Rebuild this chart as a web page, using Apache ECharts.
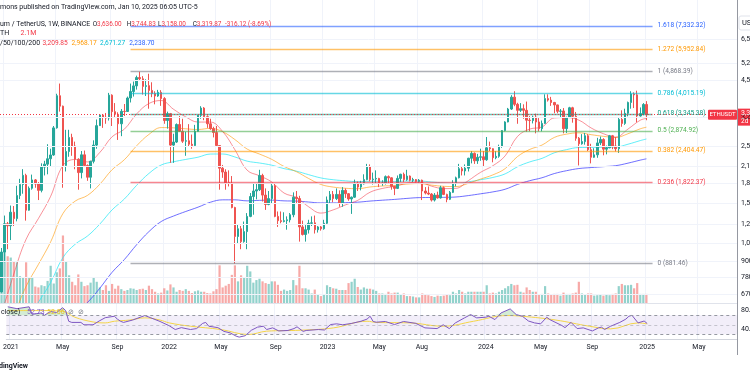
<!DOCTYPE html>
<html>
<head>
<meta charset="utf-8">
<script src="https://cdn.jsdelivr.net/npm/echarts@6/dist/echarts.min.js"></script>
<style>
  html, body { margin: 0; padding: 0; background: #fff; }
  #chart { width: 750px; height: 375px; }
</style>
</head>
<body>
<div id="chart"></div>
<script>
// weekly ETHUSDT candles, first bar 2020-12-28
const firstWeek = '2020-12-28';
const weekCount = 240;

const opens = [683,975,1255,1232,1391,1314,1614,1781,1932,1416,
  1722,1855,1788,1690,2080,2135,2240,2317,2950,3930,
  3580,2110,2390,2710,2510,2230,1980,2320,2110,1900,
  2190,2530,3010,3310,3240,3220,3950,3410,3330,3060,
  3420,3415,3850,4080,4290,4620,4570,4270,4300,4120,
  4010,3920,4050,3830,3150,3350,2530,2600,3040,2860,
  2620,2630,2550,2520,2860,3300,3520,3260,3060,2930,
  2830,2520,2060,1990,1810,1800,1450,1120,1200,1070,
  1170,1340,1600,1680,1700,1930,1620,1490,1570,1760,
  1340,1290,1280,1290,1300,1360,1590,1570,1220,1140,
  1190,1260,1265,1190,1220,1200,1260,1550,1630,1570,
  1630,1510,1690,1640,1565,1590,1790,1740,1790,1860,
  2090,1860,1870,1880,1800,1805,1910,1890,1750,1720,
  1880,1950,1860,1920,1850,1860,1830,1850,1680,1650,
  1635,1550,1620,1580,1730,1630,1560,1660,1800,1890,
  2050,2010,2060,2250,2350,2200,2270,2280,2220,2470,
  2450,2260,2290,2500,2880,3110,3490,3880,3640,3450,
  3500,3450,3160,3150,3250,3110,2930,3070,3830,3780,
  3700,3620,3420,3430,2930,3240,3530,3270,2690,2560,
  2610,2750,2430,2270,2320,2580,2660,2440,2470,2750,
  2510,2450,3180,3070,3360,3700,3990,3960,3280,3350,
  3636];
const highs = [1011,1350,1275,1476,1470,1760,1873,2042,1960,1750,
  1945,1870,1820,2150,2200,2550,2450,3000,4000,4380,
  3600,2900,2900,2800,2610,2250,2400,2410,2130,2200,
  2640,3180,3335,3340,3370,4030,3980,3680,3390,3490,
  3650,3900,4380,4460,4700,4868,4680,4550,4780,4430,
  4090,4140,4130,3880,3410,3370,2800,3070,3280,3200,
  2850,3050,2780,3030,3310,3580,3550,3300,3200,2980,
  3000,2530,2120,2040,2020,1920,1460,1250,1230,1280,
  1380,1650,1790,1800,2030,1960,1720,1680,1790,1790,
  1400,1400,1390,1340,1380,1660,1680,1610,1290,1240,
  1300,1340,1350,1230,1230,1300,1600,1680,1680,1720,
  1690,1740,1720,1650,1600,1860,1830,1840,1950,2140,
  2130,1980,2020,1890,1850,1930,1930,1900,1760,1930,
  1960,1980,2030,1930,1890,1870,1870,1860,1740,1750,
  1650,1650,1670,1760,1750,1640,1680,1850,1910,2140,
  2100,2130,2260,2400,2370,2340,2450,2400,2720,2610,
  2460,2400,2540,2890,3130,3525,3950,4090,3690,3680,
  3640,3730,3280,3290,3350,3220,3150,3980,3980,3890,
  3720,3630,3490,3520,3260,3560,3560,3400,2720,2790,
  2820,2790,2560,2460,2700,2730,2690,2520,2770,2770,
  2720,3250,3450,3500,3730,4090,4050,4110,3540,3680,
  3744.83];
const lows = [680,890,1000,1085,1230,1282,1563,1640,1290,1410,
  1700,1730,1550,1660,1930,1950,2100,2300,2930,3410,
  1730,2000,2280,2300,2040,1700,1880,2080,1840,1720,
  2150,2450,3000,2950,3060,3150,3000,3240,2650,2740,
  3280,3400,3700,3900,4150,4500,3970,3920,3500,3880,
  3640,3890,3590,3060,2930,2160,2160,2580,2850,2580,
  2300,2500,2450,2500,2850,3200,3160,2950,2900,2710,
  2500,1700,1890,1700,1750,1440,880,1050,1000,1060,
  1000,1330,1360,1560,1680,1530,1420,1480,1500,1330,
  1220,1260,1270,1190,1270,1330,1510,1070,1130,1070,
  1150,1230,1150,1160,1180,1190,1250,1500,1520,1550,
  1460,1460,1580,1540,1370,1580,1680,1690,1780,1850,
  1830,1780,1800,1740,1760,1780,1800,1700,1620,1710,
  1820,1820,1840,1830,1820,1810,1810,1550,1630,1620,
  1530,1530,1570,1570,1620,1520,1550,1650,1750,1880,
  1930,1930,2000,2150,2140,2140,2200,2100,2200,2400,
  2170,2230,2260,2470,2860,3100,3460,3580,3060,3400,
  3200,2850,2860,3070,2810,2860,2860,3060,3730,3590,
  3360,3360,3240,2810,2820,3230,3090,2630,2110,2540,
  2540,2400,2150,2260,2260,2530,2310,2330,2460,2440,
  2390,2360,2980,3030,3270,3500,3520,3100,3260,3300,
  3158];
const closes = [975,1255,1232,1391,1314,1614,1781,1932,1416,1722,
  1855,1788,1690,2080,2135,2240,2317,2950,3930,3580,
  2110,2390,2710,2510,2230,1980,2320,2110,1900,2190,
  2530,3010,3310,3240,3220,3950,3410,3330,3060,3420,
  3415,3850,4080,4290,4620,4570,4270,4300,4120,4010,
  3920,4050,3830,3150,3350,2530,2600,3040,2860,2620,
  2630,2550,2520,2860,3300,3520,3260,3060,2930,2830,
  2520,2060,1990,1810,1800,1450,1120,1200,1070,1170,
  1340,1600,1680,1700,1930,1620,1490,1570,1760,1340,
  1290,1280,1290,1300,1360,1590,1570,1220,1140,1190,
  1260,1265,1190,1220,1200,1260,1550,1630,1570,1630,
  1510,1690,1640,1565,1590,1790,1740,1790,1860,2090,
  1860,1870,1880,1800,1805,1910,1890,1750,1720,1880,
  1950,1860,1920,1850,1860,1830,1850,1680,1650,1635,
  1550,1620,1580,1730,1630,1560,1660,1800,1890,2050,
  2010,2060,2250,2350,2200,2270,2280,2220,2470,2450,
  2260,2290,2500,2880,3110,3490,3880,3640,3450,3500,
  3450,3160,3150,3250,3110,2930,3070,3830,3780,3700,
  3620,3420,3430,2930,3240,3530,3270,2690,2560,2610,
  2750,2430,2270,2320,2580,2660,2440,2470,2750,2510,
  2450,3180,3070,3360,3700,3990,3960,3280,3350,3636,
  3319.87];
// volume, millions of ETH
const volumes = [11.0,12.7,10.8,10.5,9.7,9.4,6.2,6.0,9.4,6.0,
  5.8,3.8,3.6,4.1,3.9,5.1,8.6,4.5,7.1,8.0,
  15.6,9.6,6.4,4.9,4.1,6.6,4.9,3.9,4.1,4.7,
  5.8,4.9,3.6,3.0,4.1,2.8,4.4,3.3,4.0,3.2,
  2.8,3.0,3.4,3.3,3.0,3.2,3.3,3.0,4.0,3.2,
  2.6,2.2,2.4,3.4,2.9,4.3,3.6,2.6,3.0,2.8,
  3.2,2.8,2.3,2.7,2.9,2.6,2.6,2.3,2.2,2.7,
  3.2,8.7,3.6,4.0,4.4,6.5,8.7,5.0,6.4,6.0,
  8.6,7.3,4.7,5.3,5.6,5.0,4.6,4.4,5.0,5.0,
  4.2,2.8,3.1,2.8,3.0,5.3,4.1,8.6,3.4,3.4,
  3.1,2.2,3.1,1.9,1.6,1.9,4.1,3.7,3.4,3.3,
  3.0,3.0,3.0,4.6,4.9,5.6,3.7,3.1,3.6,3.3,
  3.3,3.1,2.8,2.2,2.2,2.1,2.6,2.2,2.4,2.4,
  1.9,2.2,1.6,1.6,1.5,1.3,1.3,2.2,1.9,1.8,
  1.6,1.4,1.7,1.6,1.7,1.9,1.8,2.6,2.2,3.0,
  2.6,2.2,2.6,2.6,2.6,2.6,2.6,2.6,4.1,2.2,
  2.4,2.2,2.6,3.0,3.4,3.9,4.4,4.1,4.2,2.6,
  2.4,3.6,3.0,2.6,2.6,1.9,2.1,3.9,2.2,1.9,
  2.1,2.1,1.7,2.4,2.1,2.1,2.2,2.4,4.9,2.2,
  1.9,2.2,2.2,1.7,1.8,1.9,1.7,1.9,1.8,2.1,
  2.2,3.9,4.4,4.1,4.1,4.2,3.4,4.6,2.1,2.1,
  2.1];

// moving averages: [week index, value]
const ema20 = [[0,560],[4,802],[8,1093],[12,1314],[16,1603],[20,2110],[24,2226],[28,2177],[32,2369],[36,2726],[40,2917],[44,3342],[48,3667],[52,3765],[56,3483],[60,3253],[64,3107],[68,3107],[72,2858],[76,2427],[80,2022],[84,1925],[88,1821],[92,1650],[96,1586],[100,1460],[104,1380],[108,1420],[112,1485],[116,1546],[120,1662],[124,1719],[128,1752],[132,1802],[136,1817],[140,1755],[144,1717],[148,1721],[152,1843],[156,1985],[160,2105],[164,2299],[168,2732],[172,2919],[176,2975],[180,3224],[184,3234],[188,3161],[192,2948],[196,2801],[200,2717],[204,2919],[208,3159],[210,3209.85]];
const ema50 = [[0,420],[4,550],[8,718],[12,873],[16,1068],[20,1375],[24,1536],[28,1616],[32,1785],[36,2032],[40,2221],[44,2515],[48,2783],[52,2958],[56,2951],[60,2926],[64,2908],[68,2938],[72,2851],[76,2658],[80,2442],[84,2336],[88,2228],[92,2091],[96,1997],[100,1879],[104,1781],[108,1740],[112,1722],[116,1715],[120,1742],[124,1757],[128,1766],[132,1787],[136,1796],[140,1771],[144,1752],[148,1748],[152,1799],[156,1869],[160,1940],[164,2052],[168,2283],[172,2434],[176,2531],[180,2709],[184,2790],[188,2823],[192,2777],[196,2736],[200,2708],[204,2800],[208,2926],[210,2968.17]];
const ema100 = [[0,360],[4,432],[8,528],[12,623],[16,744],[20,928],[24,1046],[28,1125],[32,1251],[36,1420],[40,1565],[44,1768],[48,1965],[52,2119],[56,2180],[60,2227],[64,2272],[68,2336],[72,2337],[76,2276],[80,2193],[84,2157],[88,2115],[92,2052],[96,2006],[100,1944],[104,1888],[108,1858],[112,1840],[116,1827],[120,1832],[124,1832],[128,1830],[132,1836],[136,1837],[140,1821],[144,1807],[148,1801],[152,1823],[156,1858],[160,1896],[164,1958],[168,2085],[172,2178],[176,2248],[180,2362],[184,2430],[188,2476],[192,2479],[196,2480],[200,2485],[204,2550],[208,2634],[210,2671.27]];
const ema200 = [[20,485],[24,562],[28,622],[32,706],[36,814],[40,912],[44,1041],[48,1170],[52,1280],[56,1344],[60,1400],[64,1455],[68,1520],[72,1553],[76,1553],[80,1539],[84,1546],[88,1549],[92,1539],[96,1536],[100,1523],[104,1511],[108,1511],[112,1515],[116,1521],[120,1536],[124,1548],[128,1559],[132,1573],[136,1584],[140,1586],[144,1588],[148,1593],[152,1613],[156,1639],[160,1667],[164,1707],[168,1782],[172,1842],[176,1891],[180,1963],[184,2014],[188,2053],[192,2071],[196,2088],[200,2106],[204,2154],[208,2213],[210,2238.70]];

// RSI(14) and its MA, [week index, value]
const rsi = [[0,88],[3,84],[5,86],[7,88],[8,72],[11,75],[12,70],[14,78],[16,76],[18,86],[19,80],[20,57.5],[21,55],[24,55],[25,50],[28,50],[30,58],[32,65],[35,68],[36,62],[37,57.5],[38,55],[41,60],[45,69.5],[47,64.6],[50,57],[53,48],[55,40],[57,44],[60,40],[62,42],[64,53],[65,55],[66,47],[69,44],[71,36],[73,33],[75,26],[76,24],[78,27],[80,38.5],[82,45],[84,47],[85,40],[87,43.5],[89,37],[92,38],[94,42],[95,45.7],[97,36],[98,38],[102,40],[104,39],[106,50.5],[108,52],[110,50],[113,53],[116,57.5],[118,62],[119,68],[120,57],[121,55.4],[124,57],[127,50.5],[130,57],[134,53],[137,43.5],[141,42],[143,50],[145,42],[147,54],[150,64.6],[152,71.5],[154,64.6],[157,66],[158,68],[160,61],[162,75],[165,83.5],[167,71.5],[169,68],[171,58],[173,54],[175,52],[177,66],[178,61],[182,48.4],[183,44],[185,55],[187,42],[189,43.5],[192,37],[194,43.5],[195,45],[196,40],[198,47],[201,55],[203,62],[204,68],[205,70],[207,54],[209,58],[210,52.73]];
const rsiMa = [[0,80],[10,80],[18,78.5],[22,66],[28,56],[32,54],[35,57.5],[40,60],[45,64.6],[50,60],[53,54],[60,47],[70,40],[79,29.5],[85,36.5],[96,38.5],[107,43.5],[118,57.5],[121,55],[132,54],[143,47],[153,57.5],[164,69.5],[169,68],[180,60],[191,47],[198,41.4],[207,54],[210,52]];

// Fibonacci retracement levels
const fibRatios = ['1.618', '1.272', '1', '0.786', '0.618', '0.5', '0.382', '0.236', '0'];
const fibPrices = [7332.32, 5952.84, 4868.39, 4015.19, 3345.38, 2874.92, 2404.47, 1822.37, 881.46];
const fibColors = ['#2962ff', '#ff9800', '#787b86', '#00bcd4', '#089981', '#4caf50', '#ff9800', '#f23645', '#787b86'];
const fibFromWeek = 42;
const fibToWeek = 212;

const lastPrice = 3319.87;
const priceTicks = [6500, 5250, 4500, 3250, 2500, 2100, 1800, 1500, 1250, 1050, 900, 780, 670];
const rsiTicks = [80, 40];
const tickDates = ['2021-01-04','2021-05-03','2021-09-06','2022-01-03','2022-05-02','2022-09-05','2023-01-02','2023-05-01','2023-08-07','2024-01-01','2024-05-06','2024-09-02','2025-01-06','2025-05-05'];
const tickLabels = ['2021','May','Sep','2022','May','Sep','2023','May','Aug','2024','May','Sep','2025','May'];

const UP = '#26a69a', DOWN = '#ef5350';
const FONT = 'Roboto, sans-serif';

const cats = [];
const t0 = new Date(firstWeek + 'T00:00:00Z').getTime();
for (let i = 0; i < weekCount; i++) {
  cats.push(new Date(t0 + i * 7 * 86400000).toISOString().slice(0, 10));
}
const onWeeks = arr => arr.map(p => [cats[p[0]], p[1]]);
const isTick = (idx, val) => tickDates.indexOf(val) >= 0;
const money = v => v.toLocaleString('en-US', { minimumFractionDigits: 2, maximumFractionDigits: 2 });
const fade = (hex, a) => {
  const n = parseInt(hex.slice(1), 16);
  return 'rgba(' + (n >> 16) + ',' + ((n >> 8) & 255) + ',' + (n & 255) + ',' + a + ')';
};

const candles = opens.map((o, i) => [o, closes[i], lows[i], highs[i]]);
const volBars = volumes.map((v, i) => ({
  value: v,
  itemStyle: { color: closes[i] >= opens[i] ? 'rgba(38,166,154,0.5)' : 'rgba(239,83,80,0.5)' }
}));

const fibLines = fibPrices.map((p, i) => [
  { coord: [cats[fibFromWeek], p], lineStyle: { color: fade(fibColors[i], 0.6) },
    label: { color: fibColors[i], formatter: fibRatios[i] + ' (' + money(p) + ')' } },
  { coord: [cats[fibToWeek], p] }
]);

const chart = echarts.init(document.getElementById('chart'));

const xBase = {
  type: 'category', data: cats, boundaryGap: true,
  axisLine: { show: false }, axisTick: { show: false }, axisLabel: { show: false },
  splitLine: { show: true, interval: isTick, lineStyle: { color: '#f0f3fa', width: 1 } }
};

const option = {
  animation: false,
  backgroundColor: '#ffffff',
  grid: [
    { left: 0, top: 0, width: 737, height: 303 },
    { left: 0, top: 0, width: 737, height: 303 },
    { left: 0, top: 303, width: 737, height: 36 }
  ],
  xAxis: [
    Object.assign({}, xBase, { gridIndex: 0 }),
    Object.assign({}, xBase, { gridIndex: 1, splitLine: { show: false } }),
    Object.assign({}, xBase, {
      gridIndex: 2,
      axisLine: { show: true, lineStyle: { color: '#d1d4dc' } },
      axisLabel: {
        show: true, interval: isTick, margin: 5, fontSize: 7, color: '#131722', fontFamily: FONT,
        formatter: v => tickLabels[tickDates.indexOf(v)]
      }
    })
  ],
  yAxis: [
    { type: 'log', gridIndex: 0, min: 619, max: 9227, show: false },
    { type: 'value', gridIndex: 1, min: 0, max: 70, show: false },
    { type: 'value', gridIndex: 2, min: 20, max: 96, show: false }
  ],
  series: [
    {
      // horizontal price grid
      type: 'line', xAxisIndex: 0, yAxisIndex: 0, z: 0, silent: true,
      data: [[cats[0], fibPrices[8]]], showSymbol: false, lineStyle: { opacity: 0 },
      markLine: {
        silent: true, symbol: ['none', 'none'], label: { show: false },
        lineStyle: { color: '#f0f3fa', width: 1, type: 'solid' },
        data: priceTicks.map(v => ({ yAxis: v }))
      }
    },
    {
      name: 'Vol', type: 'bar', xAxisIndex: 1, yAxisIndex: 1, z: 1,
      barWidth: 2.2, data: volBars
    },
    {
      // Fibonacci levels
      type: 'line', xAxisIndex: 0, yAxisIndex: 0, z: 2, silent: true,
      data: [[cats[0], fibPrices[8]]], showSymbol: false, lineStyle: { opacity: 0 },
      markLine: {
        silent: true, symbol: ['none', 'none'],
        lineStyle: { width: 1.3, type: 'solid' },
        label: { show: true, position: 'end', distance: 5, fontSize: 6.6, fontFamily: FONT },
        data: fibLines
      }
    },
    { name: 'EMA200', type: 'line', xAxisIndex: 0, yAxisIndex: 0, z: 3, smooth: 0.4, showSymbol: false,
      data: onWeeks(ema200), lineStyle: { color: '#3f3fff', width: 1, opacity: 0.75 } },
    { name: 'EMA100', type: 'line', xAxisIndex: 0, yAxisIndex: 0, z: 3, smooth: 0.4, showSymbol: false,
      data: onWeeks(ema100), lineStyle: { color: '#2ee8f5', width: 1, opacity: 0.75 } },
    { name: 'EMA50', type: 'line', xAxisIndex: 0, yAxisIndex: 0, z: 3, smooth: 0.4, showSymbol: false,
      data: onWeeks(ema50), lineStyle: { color: '#ff9800', width: 1, opacity: 0.6 } },
    { name: 'EMA20', type: 'line', xAxisIndex: 0, yAxisIndex: 0, z: 3, smooth: 0.4, showSymbol: false,
      data: onWeeks(ema20), lineStyle: { color: '#f23645', width: 1, opacity: 0.55 } },
    {
      name: 'ETHUSDT', type: 'candlestick', xAxisIndex: 0, yAxisIndex: 0, z: 4,
      barWidth: 2, data: candles,
      itemStyle: { color: UP, color0: DOWN, borderColor: UP, borderColor0: DOWN, borderWidth: 1 },
      markLine: {
        silent: true, symbol: ['none', 'none'], label: { show: false },
        lineStyle: { color: '#f23645', width: 1, type: [1, 2] },
        data: [{ yAxis: lastPrice }]
      }
    },
    {
      // RSI band and levels
      type: 'line', xAxisIndex: 2, yAxisIndex: 2, z: 1, silent: true,
      data: [[cats[0], 50]], showSymbol: false, lineStyle: { opacity: 0 },
      markArea: { silent: true, itemStyle: { color: 'rgba(126,87,194,0.1)' }, data: [[{ yAxis: 30 }, { yAxis: 70 }]] },
      markLine: {
        silent: true, symbol: ['none', 'none'], label: { show: false },
        lineStyle: { color: '#9598a1', width: 1, type: [3, 3] },
        data: [{ yAxis: 70 }, { yAxis: 50, lineStyle: { opacity: 0.5 } }, { yAxis: 30 }]
      }
    },
    {
      // overbought fill
      type: 'line', xAxisIndex: 2, yAxisIndex: 2, z: 2, silent: true, showSymbol: false,
      data: rsi.map(p => [cats[p[0]], Math.max(p[1], 70)]),
      lineStyle: { width: 0 }, areaStyle: { origin: 70, color: 'rgba(76,175,80,0.35)' }
    },
    { name: 'RSI MA', type: 'line', xAxisIndex: 2, yAxisIndex: 2, z: 3, showSymbol: false, smooth: 0.4,
      data: onWeeks(rsiMa), lineStyle: { color: '#f5d547', width: 1 } },
    { name: 'RSI', type: 'line', xAxisIndex: 2, yAxisIndex: 2, z: 4, showSymbol: false,
      data: onWeeks(rsi), lineStyle: { color: '#7e57c2', width: 1 } }
  ]
};
chart.setOption(option);

// text overlays, placed with the chart's own scales
const txt = (x, y, text, fill, size, align, weight) => ({
  type: 'text', x: x, y: y, silent: true, z: 100,
  style: { text: text, fill: fill, font: (weight || 'normal') + ' ' + (size || 7) + 'px ' + FONT,
    align: align || 'left', verticalAlign: 'middle' }
});
const g = [];
// legend rows
g.push(txt(0, 7, 'mons published on TradingView.com, Jan 10, 2025 06:05 UTC-5', '#131722'));
g.push(txt(0, 24, 'um / TetherUS, 1W, BINANCE', '#131722'));
[['O', '3,636.00', 92.7], ['H', '3,744.83', 126.7], ['L', '3,158.00', 158], ['C', '3,319.87', 192.7]].forEach(r => {
  g.push({ type: 'text', x: r[2], y: 24, silent: true, z: 100,
    style: { text: '{k|' + r[0] + '}{v|' + r[1] + '}', verticalAlign: 'middle', font: '6.4px ' + FONT,
      rich: { k: { fill: '#131722', font: '6.4px ' + FONT }, v: { fill: '#f23645', font: '6.4px ' + FONT } } } });
});
g.push(txt(225, 24, '-316.12 (-8.69%)', '#f23645', 6.4));
g.push(txt(0, 33, 'TH', '#131722'));
g.push(txt(20.5, 33, '2.1M', '#f23645'));
g.push(txt(0, 43, '/50/100/200', '#131722'));
g.push(txt(42.5, 43, '3,209.85', '#f23645', 6.6));
g.push(txt(71.5, 43, '2,968.17', '#ff9800', 6.6));
g.push(txt(100, 43, '2,671.27', '#00bcd4', 6.6));
g.push(txt(129.3, 43, '2,238.70', '#2962ff', 6.6));
// RSI legend
g.push(txt(1, 312, 'close)', '#131722'));
g.push(txt(27, 312, '52.73', '#7e57c2'));
g.push(txt(47, 312, '52.06', '#e6c229'));
g.push(txt(68, 312, '\u2298', '#787b86', 7));
g.push(txt(78, 312, '\u2298', '#787b86', 7));

// right price scale
priceTicks.forEach(v => {
  const y = chart.convertToPixel({ yAxisIndex: 0 }, v);
  g.push(txt(741, y, money(v), '#131722'));
});
rsiTicks.forEach(v => {
  const y = chart.convertToPixel({ yAxisIndex: 2 }, v);
  g.push(txt(741, y, money(v), '#131722'));
});
// pane borders
g.push({ type: 'line', z: 90, silent: true, shape: { x1: 737.5, y1: 0, x2: 737.5, y2: 355 }, style: { stroke: '#9598a1', lineWidth: 1 } });
g.push({ type: 'line', z: 90, silent: true, shape: { x1: 0, y1: 303.5, x2: 737, y2: 303.5 }, style: { stroke: '#e0e3eb', lineWidth: 1 } });
// currency box
g.push({ type: 'rect', z: 95, silent: true, shape: { x: 739, y: 16, width: 30, height: 14, r: 2 }, style: { fill: '#fff', stroke: '#e0e3eb', lineWidth: 1 } });
g.push(txt(742, 23, 'USDT', '#131722', 7.5));
// last price tags
const py = chart.convertToPixel({ yAxisIndex: 0 }, lastPrice);
g.push({ type: 'rect', z: 95, silent: true, shape: { x: 708, y: py - 5, width: 29, height: 10, r: 1 }, style: { fill: '#f23645' } });
g.push(txt(722.5, py, 'ETHUSDT', '#ffffff', 6, 'center'));
g.push({ type: 'rect', z: 95, silent: true, shape: { x: 738, y: py - 6, width: 30, height: 17 }, style: { fill: '#f23645' } });
g.push(txt(741, py - 1, money(lastPrice), '#ffffff', 7));
g.push(txt(741, py + 6.5, '2d 18h', '#ffffff', 6.5));
// footer
g.push(txt(28, 366, 'TradingView', '#131722', 7, 'right', 'bold'));

chart.setOption({ graphic: g });
</script>
</body>
</html>
